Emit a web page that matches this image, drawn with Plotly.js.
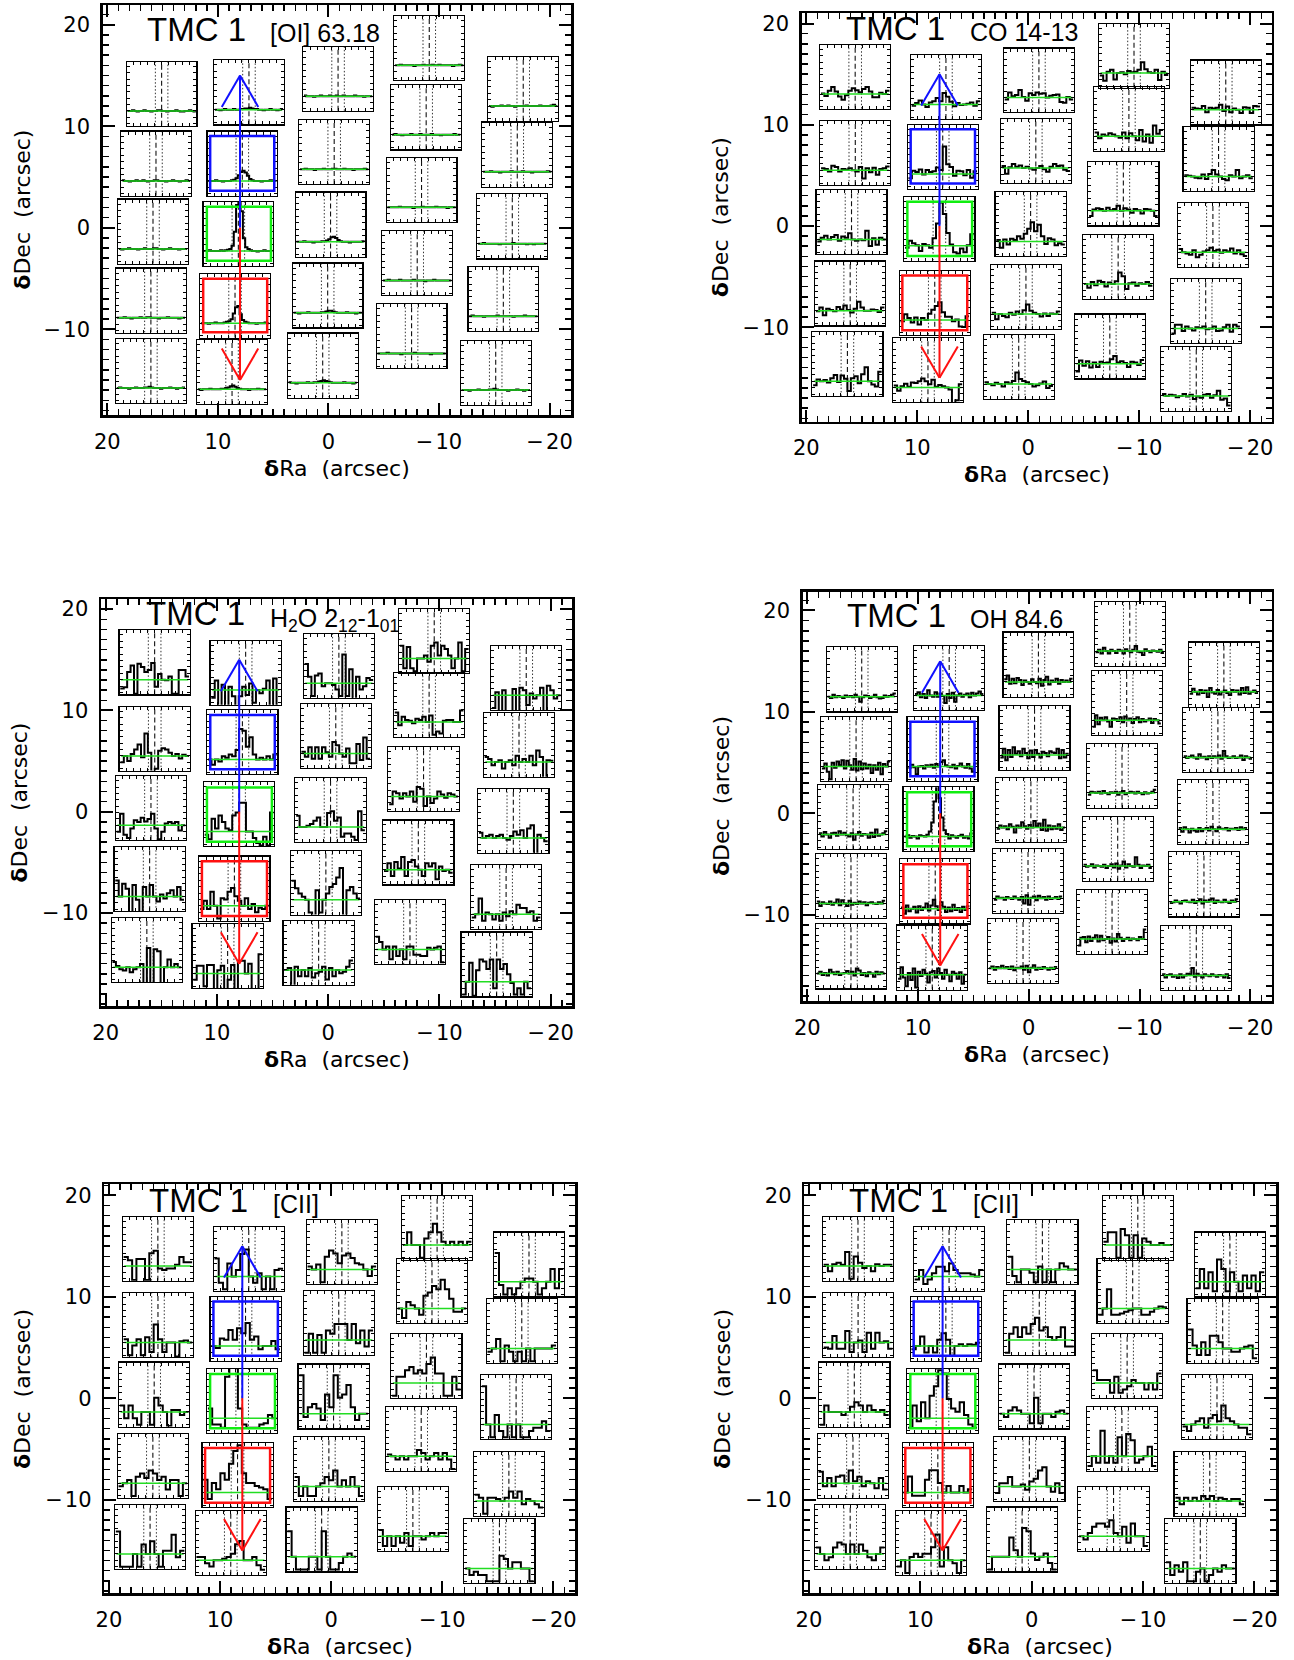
<!DOCTYPE html>
<html><head><meta charset="utf-8">
<script src="https://cdn.plot.ly/plotly-3.0.1.min.js"></script>
<style>body{margin:0;background:#fff}</style>
</head><body><div id="chart" style="width:1294px;height:1660px"></div>
<script>
// ---------------- DATA ----------------
const sourceName = 'TMC 1';
const lineLabels = ['[OI] 63.18', 'CO 14-13', 'H<sub>2</sub>O 2<sub>12</sub>-1<sub>01</sub>', 'OH 84.6', '[CII]', '[CII]'];
const raTicks = [20, 10, 0, -10, -20];
const raTickText = ['20', '10', '0', '\u2212\u200a10', '\u2212\u200a20'];
const decTicks = [20, 10, 0, -10];
const decTickText = ['20', '10', '0', '\u2212\u200a10'];

// spaxel centres (arcsec), column by column (5 columns x 5 rows)
const blueRa  = [15.09,15.60,15.87,16.06,16.06, 7.19,7.79,8.15,8.45,8.72, -0.87,-0.52,-0.19,0.07,0.52, -9.12,-8.84,-8.42,-8.03,-7.52, -17.62,-17.08,-16.63,-15.82,-15.13];
const blueDec = [13.20,6.31,-0.39,-7.18,-14.10, 13.33,6.31,-0.59,-7.70,-14.22, 14.66,7.45,0.31,-6.68,-13.58, 17.70,10.87,3.71,-3.50,-10.69, 13.68,7.21,0.13,-7.01,-14.29];
const redRa   = [15.60,15.59,15.93,16.05,16.30, 7.42,7.71,8.01,8.43,9.04, -0.96,-0.68,-0.21,0.21,0.86, -9.53,-9.07,-8.57,-8.10,-7.35, -17.80,-17.15,-16.64,-15.99,-15.14];
const redDec  = [14.74,7.21,0.36,-6.67,-13.65, 13.72,6.85,-0.26,-7.59,-14.26, 14.39,7.44,0.18,-7.00,-13.92, 16.82,10.56,3.20,-4.02,-11.91, 13.19,6.60,-0.89,-8.43,-15.09];

// highlighted spaxel squares (blue, green, red): [x0,x1,y0,y1] arcsec
const blueFpSquares = [[4.9,10.7,3.65,9.03],[5.2,11.0,-3.25,2.07],[5.54,11.33,-10.3,-5.02]];
const redFpSquares  = [[4.8,10.6,4.2,9.55],[5.06,10.9,-2.96,2.4],[5.5,11.35,-10.3,-4.9]];
// arrows: x of shaft, tip, head points
const arrowX = 8, arrowTip = 15, arrowHeadDx = 1.65, arrowHeadY = 11.9;

// velocity grid markers in the small spectra
const velRange = [-500, 500];
const dottedVel = [-90, 90];
const dashedVel = 0;
const fluxRange = [-23, 77];   // percent of box height, baseline = 0

const specOI = [
 [0,0,1,0,-1,0,0,1,0,0,-1,0,0,1,1,0,0,-1,0,0,0,1,0,-1,-1,0,0,1,0,-1],
 [1,0,0,-1,0,0,1,0,0,1,0,-1,0,0,1,1,0,0,0,-1,0,0,1,0,0,-1,0,0,1,0],
 [0,-1,0,0,1,0,0,0,-1,0,0,1,0,0,0,1,1,0,0,-1,0,0,1,0,0,0,-1,0,0,0],
 [0,0,0,1,0,0,-1,0,0,0,1,0,0,1,1,0,0,0,-1,0,0,0,1,0,0,0,0,-1,0,0],
 [0,1,0,0,0,-1,0,0,1,0,0,0,1,1,2,1,0,0,0,-1,0,0,0,1,0,0,-1,0,0,1],
 [0,0,-1,0,1,0,0,0,1,0,0,1,1,2,2,3,2,1,1,0,0,-1,0,0,1,0,0,-1,0,1],
 [0,0,0,1,0,0,-1,0,0,0,1,2,4,9,14,16,13,8,3,1,0,0,0,-1,0,0,0,1,0,0],
 [0,0,1,0,0,0,0,1,0,1,2,3,8,30,72,88,62,20,6,3,1,0,0,-1,0,0,1,0,0,0],
 [0,0,0,-1,0,0,1,0,0,0,1,2,3,6,15,25,27,14,5,2,1,0,0,0,-1,0,0,0,1,0],
 [0,-1,0,0,0,1,0,0,0,0,1,1,2,3,5,6,4,2,1,0,0,0,-1,0,0,0,1,0,0,0],
 [1,0,0,0,-1,0,0,1,0,0,0,1,0,0,1,0,0,1,0,0,0,0,1,0,0,0,-1,0,0,0],
 [0,0,1,0,0,0,-1,0,0,0,1,0,0,0,1,1,0,0,0,1,0,0,0,-1,0,0,0,0,1,0],
 [0,0,0,1,0,0,0,-1,0,0,0,1,1,2,4,7,8,6,3,1,0,0,0,-1,0,0,0,0,0,1],
 [0,0,-1,0,0,0,1,0,0,0,0,0,1,1,2,3,3,2,1,0,0,0,0,1,0,0,0,-1,0,0],
 [1,0,0,-1,0,0,0,0,1,0,0,1,1,2,3,4,3,2,1,0,0,0,0,0,1,0,0,0,-1,0],
 [0,0,1,0,0,0,0,0,-1,0,0,0,1,0,0,0,1,0,0,1,0,0,0,0,0,-1,0,0,1,0],
 [0,1,0,0,-1,0,0,0,1,0,0,0,1,0,0,0,0,1,0,0,0,-1,0,0,0,0,0,1,0,0],
 [0,0,0,0,0,1,0,0,0,0,0,-1,0,0,0,1,0,0,0,0,0,1,0,0,0,0,-1,0,0,0],
 [0,0,1,0,0,0,0,1,0,0,0,0,0,1,0,0,0,0,-1,0,0,0,1,0,0,0,0,0,0,0],
 [0,0,0,0,1,0,0,0,0,0,-1,0,0,0,0,0,1,0,0,0,0,0,0,-1,0,0,0,0,0,0],
 [0,-1,0,0,0,1,0,0,1,0,0,-1,0,0,0,0,1,0,0,0,0,0,1,0,0,0,0,1,2,0],
 [0,0,0,1,0,0,0,-1,0,0,0,0,1,0,0,0,0,1,0,0,0,-1,0,0,0,0,0,0,1,0],
 [0,0,1,0,0,0,0,0,0,-1,0,0,0,0,0,1,0,0,0,0,0,-1,0,0,-1,0,0,0,0,0],
 [0,1,0,0,0,0,-1,0,0,0,0,0,1,0,0,0,0,0,0,-1,0,0,0,0,1,0,0,0,0,0],
 [0,0,0,-1,0,0,0,1,0,0,0,0,1,1,2,1,0,0,0,0,-1,0,0,0,1,0,0,-1,0,0]
];

const specCO = [
 [1,-3,5,11,4,-4,-9,-2,5,9,6,3,8,11,4,-5,-5,2,0,5],
 [3,2,-2,7,5,-2,2,1,3,0,-2,5,-13,3,-3,4,-7,2,3,6],
 [-3,3,6,0,4,7,-2,5,3,10,0,-2,0,-1,14,-10,2,-8,3,0],
 [-1,5,-7,3,1,-1,6,2,8,1,-3,3,14,5,0,0,2,1,-2,5],
 [-6,3,0,2,-2,5,10,-1,9,4,-15,5,8,-3,11,22,0,-5,-8,15],
 [-2,2,6,0,-4,3,5,10,5,18,12,4,-3,2,-1,0,1,3,-2,5],
 [-7,5,3,7,-1,6,3,4,10,6,43,15,11,-3,5,4,-2,6,-6,4],
 [-3,8,4,1,-8,3,1,-3,12,35,68,50,20,2,-10,-12,-4,-10,1,18],
 [-2,9,3,-4,4,-7,3,0,10,16,22,28,12,5,5,-2,1,-10,-11,6],
 [3,-5,2,6,1,8,7,10,14,10,5,12,1,4,2,0,-3,-25,-20,5],
 [-3,8,2,4,12,1,-5,7,4,8,6,7,0,3,4,5,-7,-8,1,-3],
 [3,-9,1,6,2,4,0,2,-1,-3,0,3,-2,-6,2,6,3,4,-3,-5],
 [2,-10,3,-5,4,2,8,4,12,20,30,16,26,8,-4,5,3,-6,-3,-5],
 [2,-8,0,-3,-5,2,-1,4,0,6,15,5,2,0,-4,1,-3,1,0,4],
 [3,0,-2,2,0,-4,3,1,5,18,8,5,3,0,-4,-2,1,4,-6,-3],
 [-4,-12,2,5,-10,0,1,-2,3,1,2,5,17,6,1,0,5,-11,2,-3],
 [6,-3,3,1,5,3,0,-2,6,-3,5,0,-6,10,-8,3,-10,17,4,10],
 [-8,2,4,3,0,5,1,3,8,0,4,2,-3,3,1,-4,3,2,0,-8],
 [0,-6,3,-2,5,3,-4,2,0,4,18,12,-8,1,2,-3,1,0,3,-3],
 [-12,5,-3,4,-6,2,-5,3,1,2,7,12,2,4,1,-5,3,2,-2,6],
 [3,2,1,6,-4,3,2,3,8,-2,5,-4,2,0,-5,4,3,-5,6,5],
 [2,1,0,-2,-3,3,-4,4,10,3,0,-4,-6,2,0,10,-3,0,2,-3],
 [5,0,-2,-4,3,-8,-4,1,3,7,2,4,-1,3,1,6,-2,3,-3,-6],
 [-8,6,6,-4,3,0,-3,2,1,3,-1,0,3,-4,-3,2,6,-5,6,3],
 [3,0,2,1,-2,0,3,-1,2,-5,-1,-3,2,3,-3,1,8,-6,-4,-15]
];

const specH2O = [
 [-14,-12,12,22,-22,25,20,12,15,26,-11,9,0,-1,5,-22,-22,15,15,5],
 [-10,0,-8,3,10,18,-2,35,5,-25,-20,8,12,10,5,0,3,-4,2,0],
 [-10,18,-15,-20,-5,8,5,12,6,10,18,-5,-22,-10,3,5,3,5,-8,0],
 [25,0,20,12,-25,18,-5,-25,15,0,18,0,-8,3,-3,5,10,0,15,-5],
 [8,2,-3,-5,0,-8,-3,0,5,-25,30,-25,28,25,-25,0,12,0,5,0],
 [-12,15,-25,8,-25,5,-10,-25,-10,5,-8,10,-20,0,-5,2,15,-25,18,-25],
 [0,-8,0,-3,5,3,8,5,15,48,45,20,35,8,0,3,0,5,0,8],
 [-5,-12,20,5,25,15,5,2,25,30,45,45,0,0,-10,-18,-22,-8,-22,30],
 [-5,8,-5,22,0,-20,12,10,22,28,15,8,0,12,-5,3,-10,-3,-5,0],
 [-10,12,12,-20,13,13,-25,5,12,-25,-10,13,-25,20,20,0,15,-25,-25,30],
 [30,10,-20,12,15,-5,0,0,-3,-10,-20,45,-20,22,-25,10,-10,-5,8,5],
 [3,-5,10,-8,10,-8,10,2,-5,18,13,0,-5,8,-15,-15,15,-10,25,-8],
 [18,0,0,2,5,10,15,0,0,22,25,10,15,-15,-10,-10,-15,-20,25,-5],
 [30,18,10,5,0,-20,-25,15,-20,0,10,20,25,35,50,-25,15,20,10,2],
 [0,3,-25,5,-10,0,-10,3,-12,-5,-3,5,-15,3,-10,0,-5,-3,5,15],
 [20,-15,18,-15,-20,0,0,5,-5,20,25,5,20,15,5,-15,0,25,-20,15],
 [15,-5,8,3,2,-2,5,3,8,0,10,-20,-15,-18,2,3,3,0,0,18],
 [-12,8,5,-3,5,0,8,-8,15,12,-15,0,-10,-3,8,3,-2,5,3,0],
 [-2,10,-10,12,2,20,-10,12,15,5,0,-10,10,5,10,-15,5,-2,0,-5],
 [20,12,0,5,-15,5,-10,0,-15,5,5,-8,-8,-10,-10,3,0,3,5,-20],
 [-20,5,-25,8,-25,-25,10,-25,12,8,-15,3,-5,0,12,-25,15,8,-5,0],
 [8,5,-5,0,3,-10,0,3,-5,10,0,5,0,10,-5,18,8,-25,3,2],
 [8,0,3,5,0,3,5,0,-3,3,10,5,12,0,15,20,-25,5,0,-5],
 [-5,0,25,-10,3,0,-8,0,-10,3,-3,5,0,15,10,10,3,5,-10,-5],
 [-20,0,30,-22,18,35,32,20,35,-10,35,20,28,12,-2,-20,-10,-20,0,-10]
];

const specOH = [
 [0,-2,3,-1,1,0,-2,2,0,1,-1,3,0,-8,-1,2,1,-2,0,3,-1,-3,-2,2,0,1,3,5],
 [-3,5,-8,-20,6,-2,8,2,10,-3,9,2,-5,12,-6,8,-4,5,-3,3,-10,2,-5,6,-12,4,0,8],
 [2,-3,4,0,-5,2,3,-2,5,0,3,-1,-3,2,-8,0,4,-2,1,0,-5,3,-4,8,-2,0,2,5],
 [3,-4,2,0,-1,3,-2,1,6,-3,5,0,-4,4,-2,1,-1,3,0,2,-3,1,2,0,-1,2,0,4],
 [0,3,-2,1,-3,6,2,-1,3,-2,0,1,4,0,3,-3,8,5,-2,1,-4,2,0,-5,3,-1,2,0],
 [2,5,-3,2,-4,8,0,-2,5,-2,3,-1,-12,2,-4,4,-10,0,3,-2,1,3,-3,4,0,3,6,2],
 [-2,3,-1,-12,0,1,-3,2,0,3,-2,4,0,7,10,2,0,-1,3,-3,1,5,0,-2,4,-3,-8,5],
 [0,2,-2,1,0,-3,2,1,0,3,8,22,55,80,60,30,10,4,-3,2,0,-2,1,3,-2,0,-3,5],
 [2,-8,5,-4,0,3,-6,4,-2,2,8,-3,5,14,4,-2,10,3,-5,2,-4,6,-2,1,-5,3,-2,4],
 [-6,12,-4,-18,3,-8,10,-20,5,-2,8,2,-12,4,6,-4,10,3,-6,8,0,-10,5,2,-6,4,-14,0],
 [4,10,-3,5,-2,6,3,-5,2,0,-3,4,0,-2,5,-6,3,8,-4,2,0,5,-3,3,0,2,0,5],
 [-4,10,-8,8,-3,12,2,6,-2,10,3,-5,7,-3,8,2,-4,5,3,-2,6,4,3,10,-5,8,-4,2],
 [-2,3,0,2,-3,5,1,-8,3,0,8,2,-2,4,0,10,2,6,-4,12,-5,3,-3,2,-2,5,-4,0],
 [-2,3,0,1,-2,2,0,-1,3,0,-2,2,-8,5,-10,1,3,-3,4,0,2,-2,3,-1,0,2,-1,3],
 [0,3,-2,2,0,4,0,2,-1,3,-3,1,0,3,-2,4,-6,1,5,-2,1,-1,2,0,-2,1,-1,2],
 [-2,2,-4,5,0,-4,2,0,-3,2,1,-4,3,0,-2,2,8,-1,-2,-6,3,0,-2,1,0,-1,2,-3],
 [-10,8,-6,4,0,5,-2,-10,3,2,-1,5,-3,6,0,3,-4,2,5,-3,2,-2,0,3,-4,2,0,-5],
 [-3,2,1,0,2,-1,3,0,-2,1,0,2,-3,1,3,-2,0,2,1,-1,2,0,-2,1,-1,0,2,5],
 [2,-1,0,3,-2,1,0,-1,2,-3,0,3,-2,4,-4,1,7,-2,3,0,-1,14,2,-3,1,0,2,-3],
 [-10,2,3,-5,4,-3,2,6,-4,5,-2,0,3,-6,1,-4,8,2,-3,0,2,-2,1,0,-2,3,0,15],
 [-3,5,0,-4,3,-2,2,-8,6,-1,-3,3,-4,0,2,-2,-5,3,0,2,-4,6,-2,7,-3,0,2,-2],
 [2,-1,1,3,0,-2,5,0,1,-3,2,-1,2,0,3,-2,10,2,-1,0,2,-1,0,3,-4,2,0,-2],
 [2,-4,3,0,-5,1,-2,-4,2,-3,0,2,-2,4,0,-3,3,1,0,2,-2,1,0,2,-1,3,0,2],
 [-2,-1,2,0,-3,1,2,0,-1,3,-2,1,4,-3,2,0,3,5,-2,2,0,-1,3,0,-2,2,0,4],
 [2,-3,1,2,-2,0,-4,2,-3,0,3,2,12,-2,3,0,-3,2,0,-1,2,0,-2,1,0,-3,2,-4]
];

const specCIIa = [
 [14,9,-22,11,11,-22,20,24,-4,-6,-4,-4,2,14,6,6],
 [5,-20,-5,5,-20,8,-15,28,5,-15,0,0,-22,2,3,0],
 [10,-10,10,-10,-20,0,0,-20,22,10,0,-22,3,3,-5,0],
 [-5,0,5,-20,10,15,8,20,15,5,10,-10,5,5,-20,0],
 [35,-20,-20,-20,0,-20,15,0,20,0,-20,5,5,30,-5,5],
 [28,-10,-20,20,0,10,35,42,0,-10,5,-20,0,-20,10,12],
 [0,-3,12,10,25,10,28,20,36,10,15,-5,0,0,8,-5],
 [15,-10,-10,-15,65,85,80,15,-10,-15,-15,-15,-10,-8,5,0],
 [20,-10,15,5,30,20,45,65,74,30,15,15,10,8,5,-10],
 [5,5,-5,-10,0,0,2,5,10,25,30,0,0,5,-8,-15],
 [5,0,8,-20,20,30,25,10,22,25,18,10,8,0,-10,5],
 [-20,10,-20,8,-20,15,10,25,25,25,0,25,-5,15,-10,15],
 [60,-5,10,15,8,-10,30,10,60,25,30,45,10,-10,0,0],
 [15,-15,0,-15,-15,0,5,15,10,25,0,10,0,15,0,-15],
 [40,0,-20,-20,-20,0,0,-20,40,0,-20,-20,-10,0,5,0],
 [0,20,0,0,-20,10,20,33,20,5,0,5,0,5,0,5],
 [0,-15,10,5,0,-10,20,25,35,30,45,30,15,-5,-5,0],
 [-20,10,10,20,25,15,20,15,30,40,15,15,-20,-20,10,-10],
 [3,0,-5,0,-5,0,0,10,5,-5,0,5,-5,5,-5,-20],
 [10,-15,0,-15,0,-10,5,-15,0,0,-5,0,5,0,5,5],
 [45,-5,-20,-10,-20,-10,0,5,5,0,-20,-10,0,20,-10,20],
 [-5,0,15,-20,5,-5,-20,-5,-20,0,-20,0,0,0,0,5],
 [60,0,-20,15,-10,-20,0,-20,0,-20,-20,-10,-5,-5,5,-10],
 [10,5,-20,5,5,3,0,5,15,5,15,-5,3,0,-5,-10],
 [0,-10,-5,-10,-10,-20,-20,-20,20,15,0,10,10,0,0,-20]
];

const specCIIb = [
 [2,-8,3,5,2,22,-20,15,5,-3,0,-8,3,0,2,2],
 [-8,-10,10,-10,-10,18,-15,0,3,-15,15,-10,15,0,2,-10],
 [-20,10,0,0,0,-5,0,8,15,10,0,10,3,0,3,-5],
 [18,-5,8,-5,10,12,0,20,3,10,-5,3,0,-8,8,-10],
 [10,0,-10,-5,10,18,15,0,15,0,15,5,-5,-10,0,10],
 [-5,10,-12,-5,5,15,15,8,20,10,5,5,5,3,0,10],
 [-5,0,15,-10,0,-10,10,20,10,-15,0,3,0,3,2,5],
 [-15,20,-5,25,0,35,50,75,70,30,15,10,25,5,-10,-15],
 [0,25,-5,-5,-5,20,35,35,15,0,10,0,0,10,0,5],
 [-10,0,-20,5,10,5,10,10,20,40,-10,20,0,-5,-20,0],
 [20,-10,-20,0,0,-5,-20,5,-20,0,-20,0,10,5,0,0],
 [-20,10,20,5,20,10,25,35,15,20,5,0,5,20,-10,-10],
 [0,-5,5,10,5,0,0,-15,25,-15,0,0,-5,3,5,0],
 [-10,5,5,15,0,0,3,-5,8,12,25,30,0,-8,5,-10],
 [-20,0,0,0,0,30,10,0,45,40,5,-5,0,5,-10,-20],
 [5,20,20,-20,25,15,-20,15,-20,10,5,0,0,3,0,0],
 [-10,0,30,-10,-10,-8,-5,-3,0,0,-10,-10,-5,0,3,2],
 [20,5,5,5,-15,10,-15,-10,-5,5,0,0,-10,0,-10,15],
 [-15,0,-10,40,-10,0,-10,30,0,35,25,-10,-5,0,15,-15],
 [0,-5,5,15,20,20,15,25,5,0,15,-10,20,0,0,-15],
 [-10,20,-10,15,-15,35,20,-15,15,0,-15,10,-10,10,-15,15],
 [30,5,-10,10,-10,20,20,10,0,0,-5,-5,0,3,5,-15],
 [-3,-10,0,5,10,-5,10,15,5,30,10,5,0,-5,-5,-15],
 [5,-5,5,0,5,0,8,3,8,0,5,3,0,3,3,-5],
 [10,-10,5,-5,10,-20,-20,-5,0,-20,-10,0,-5,5,0,0]
];

// ---------------- LAYOUT GEOMETRY ----------------
const W = 1294, H = 1660;
const XR = [20.42, -21.94];
const HALF = 3.15;
const panels = [
 {L:102.7, R:571.0,  T:5.0,    B:415.0,  yr:[-18.45,21.94], fp:'blue', spec:specOI},
 {L:801.7, R:1271.7, T:13.3,   B:421.7,  yr:[-19.34,21.02], fp:'red',  spec:specCO},
 {L:101.0, R:572.3,  T:599.3,  B:1006.0, yr:[-19.18,20.97], fp:'red',  spec:specH2O},
 {L:802.7, R:1271.7, T:591.7,  B:1001.0, yr:[-18.50,21.85], fp:'blue', spec:specOH},
 {L:104.3, R:575.0,  T:1184.3, B:1593.3, yr:[-19.23,21.10], fp:'red',  spec:specCIIa},
 {L:804.3, R:1276.0, T:1184.3, B:1593.3, yr:[-19.23,21.10], fp:'red',  spec:specCIIb}
];

const axKey = (c, n) => c + 'axis' + (n === 1 ? '' : n);
const axRef = (c, n) => c + (n === 1 ? '' : n);

const mainCommon = {
  tickmode: 'array', ticks: 'inside', ticklen: 12, tickwidth: 2, tickcolor: '#000',
  showline: true, linewidth: 2.5, linecolor: '#000', mirror: 'allticks',
  showgrid: false, zeroline: false, fixedrange: true,
  tickfont: {family: 'DejaVu Sans', size: 21, color: '#000'},
  minor: {tickmode: 'linear', tick0: 0, dtick: 1, ticks: 'inside', ticklen: 6, tickwidth: 1.5, tickcolor: '#000', showgrid: false}
};
const miniCommon = {
  showline: true, linecolor: '#000', linewidth: 1.2, mirror: 'allticks',
  ticks: 'inside', ticklen: 3, tickwidth: 1, tickcolor: '#000', tickmode: 'linear', tick0: 0,
  showticklabels: false, showgrid: false, zeroline: false, fixedrange: true
};

const traces = [];
const layout = {
  width: W, height: H, margin: {l:0, r:0, t:0, b:0}, showlegend: false,
  paper_bgcolor: '#ffffff', plot_bgcolor: 'rgba(0,0,0,0)',
  font: {family: 'DejaVu Sans', color: '#000'},
  shapes: [], annotations: []
};

let axisN = 7;
panels.forEach((p, pi) => {
  const n = pi + 1;
  layout[axKey('x', n)] = Object.assign({}, mainCommon, {
    domain: [p.L / W, p.R / W], range: XR, anchor: axRef('y', n),
    tickvals: raTicks, ticktext: raTickText, ticklabelstandoff: 6});
  layout[axKey('y', n)] = Object.assign({}, mainCommon, {
    domain: [1 - p.B / H, 1 - p.T / H], range: p.yr, anchor: axRef('x', n),
    tickvals: decTicks, ticktext: decTickText, ticklabelstandoff: 6});
  traces.push({x: [], y: [], xaxis: axRef('x', n), yaxis: axRef('y', n), mode: 'lines', hoverinfo: 'skip'});

  const ra = p.fp === 'blue' ? blueRa : redRa;
  const dec = p.fp === 'blue' ? blueDec : redDec;
  const fx = x => p.L + (XR[0] - x) / (XR[0] - XR[1]) * (p.R - p.L);
  const fy = y => p.T + (p.yr[1] - y) / (p.yr[1] - p.yr[0]) * (p.B - p.T);

  p.spec.forEach((s, bi) => {
    const m = axisN++;
    const xa = axRef('x', m), ya = axRef('y', m);
    const x0 = fx(ra[bi] + HALF), x1 = fx(ra[bi] - HALF);
    const y0 = fy(dec[bi] + HALF), y1 = fy(dec[bi] - HALF);
    layout[axKey('x', m)] = Object.assign({}, miniCommon, {domain: [x0 / W, x1 / W], range: velRange, anchor: ya, dtick: 100});
    layout[axKey('y', m)] = Object.assign({}, miniCommon, {domain: [1 - y1 / H, 1 - y0 / H], range: fluxRange, anchor: xa, dtick: 10});
    const N = s.length;
    const edges = s.map((_, i) => velRange[0] + 10 + (velRange[1] - velRange[0] - 20) * i / N);
    edges.push(velRange[1] - 10);
    traces.push({x: [dottedVel[0], dottedVel[0], null, dottedVel[1], dottedVel[1]], y: [fluxRange[0], fluxRange[1], null, fluxRange[0], fluxRange[1]],
      xaxis: xa, yaxis: ya, mode: 'lines', line: {color: '#333', width: 1, dash: '1.5px,2px'}, hoverinfo: 'skip'});
    traces.push({x: [dashedVel, dashedVel], y: fluxRange, xaxis: xa, yaxis: ya, mode: 'lines',
      line: {color: '#111', width: 1.1, dash: '5px,3px'}, hoverinfo: 'skip'});
    traces.push({x: edges, y: s.concat([s[N - 1]]), xaxis: xa, yaxis: ya, mode: 'lines',
      line: {color: '#000', width: 2, shape: 'hv'}, hoverinfo: 'skip'});
    traces.push({x: [velRange[0] + 20, velRange[1] - 20], y: [0, 0], xaxis: xa, yaxis: ya, mode: 'lines',
      line: {color: '#22dd22', width: 1.5}, hoverinfo: 'skip'});
  });

  // highlighted squares
  const sq = p.fp === 'blue' ? blueFpSquares : redFpSquares;
  const sqColors = ['#1010ff', '#10ee10', '#ff1010'];
  sq.forEach((r, k) => {
    layout.shapes.push({type: 'rect', xref: axRef('x', n), yref: axRef('y', n), x0: r[0], x1: r[1], y0: r[2], y1: r[3],
      line: {color: sqColors[k], width: 2.5}, fillcolor: 'rgba(0,0,0,0)', layer: 'above'});
  });
  // arrows
  [[arrowTip, '#1010ff'], [-arrowTip, '#ff1010']].forEach(([tip, col]) => {
    const hy = tip > 0 ? arrowHeadY : -arrowHeadY;
    const segs = [[arrowX, 0, arrowX, tip], [arrowX, tip, arrowX + arrowHeadDx, hy], [arrowX, tip, arrowX - arrowHeadDx, hy]];
    segs.forEach(sg => layout.shapes.push({type: 'line', xref: axRef('x', n), yref: axRef('y', n),
      x0: sg[0], y0: sg[1], x1: sg[2], y1: sg[3], line: {color: col, width: 2}, layer: 'above'}));
  });

  // texts
  layout.annotations.push({text: sourceName, xref: axRef('x', n), yref: axRef('y', n), x: 16.6, y: 19.55,
    xanchor: 'left', yanchor: 'middle', showarrow: false, font: {family: 'Liberation Sans, Arial', size: 33, color: '#000'}});
  layout.annotations.push({text: lineLabels[pi], xref: axRef('x', n), yref: axRef('y', n), x: 5.45, y: (pi === 2 ? 18.9 : 19.2),
    xanchor: 'left', yanchor: 'middle', showarrow: false, font: {family: 'Liberation Sans, Arial', size: 25, color: '#000'}});
  layout.annotations.push({text: '<b>\u03b4</b>Ra\u00a0\u00a0(arcsec)', xref: axRef('x', n) + ' domain', yref: axRef('y', n) + ' domain',
    x: 0.5, y: 0, yshift: -53, xanchor: 'center', yanchor: 'middle', showarrow: false,
    font: {family: 'DejaVu Sans', size: 22, color: '#000'}});
  layout.annotations.push({text: '<b>\u03b4</b>Dec\u00a0\u00a0(arcsec)', xref: axRef('x', n) + ' domain', yref: axRef('y', n) + ' domain',
    x: 0, y: 0.5, xshift: -81, xanchor: 'center', yanchor: 'middle', textangle: -90, showarrow: false,
    font: {family: 'DejaVu Sans', size: 22, color: '#000'}});
});

Plotly.newPlot('chart', traces, layout, {staticPlot: true, displayModeBar: false});
</script>
</body></html>
